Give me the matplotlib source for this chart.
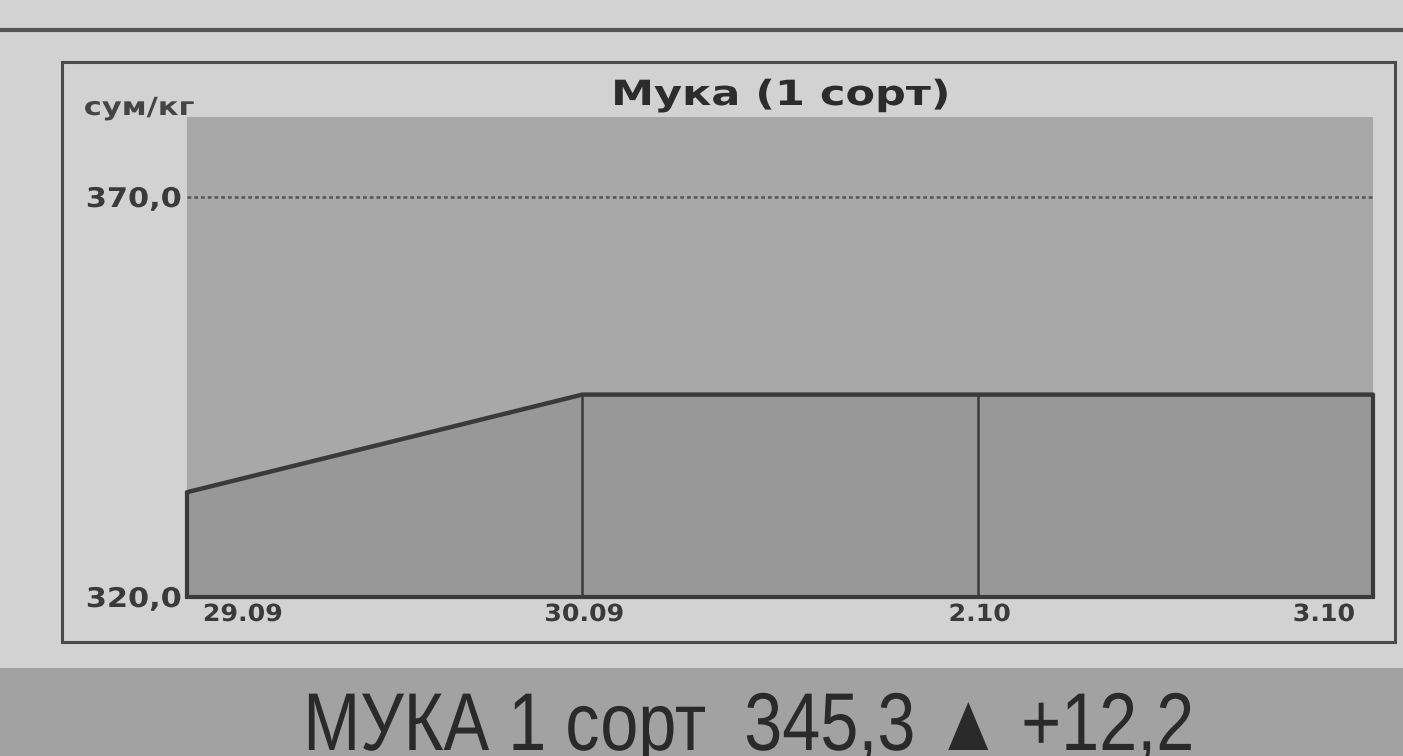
import matplotlib
matplotlib.use("Agg")
import matplotlib.pyplot as plt
from matplotlib.patches import Rectangle
from matplotlib.lines import Line2D
from matplotlib.patheffects import AbstractPathEffect
import matplotlib.transforms as mtransforms

# ---- data ----
dates = ["29.09", "30.09", "2.10", "3.10"]
prices = [333.1, 345.3, 345.3, 345.3]
ytick_values = [320, 370]
ytick_labels = ["320,0", "370,0"]
title = "Мука (1 сорт)"
unit = "сум/кг"
banner_name = "МУКА 1 сорт"
banner_value = "345,3"
banner_change = "+12,2"


class Stretch(AbstractPathEffect):
    """Scale glyphs horizontally about an anchor of the text (keeps real text)."""

    def __init__(self, sx, anchor="center"):
        super().__init__()
        self.sx = sx
        self.anchor = anchor

    def draw_path(self, renderer, gc, tpath, affine, rgbFace=None):
        ext = affine.transform_path(tpath).get_extents()
        if self.anchor == "left":
            a = ext.x0
        elif self.anchor == "right":
            a = ext.x1
        else:
            a = 0.5 * (ext.x0 + ext.x1)
        t = affine + mtransforms.Affine2D().translate(-a, 0).scale(self.sx, 1).translate(a, 0)
        renderer.draw_path(gc, tpath, t, rgbFace)


PAGE = "#d2d2d2"
PLOTBG = "#a8a8a8"
FILL = "#989898"
DARK = "#3a3a3a"
BANNER = "#a2a2a2"

W, H = 1403, 756
fig = plt.figure(figsize=(W / 100, H / 100), dpi=100, facecolor=PAGE)


def fx(px):
    return px / W


def fy(py):
    return 1 - py / H


# top rule
fig.add_artist(Line2D([0, 1], [fy(30), fy(30)], color="#555555", lw=3.0))
# outer frame
fig.add_artist(Rectangle((fx(62), fy(642)), fx(1395) - fx(62), fy(62) - fy(642),
                         fill=False, edgecolor="#4a4a4a", lw=2.2))
# banner
fig.add_artist(Rectangle((0, 0), 1, fy(668), facecolor=BANNER, edgecolor="none"))

ax = fig.add_axes([fx(187), fy(597), fx(1373) - fx(187), fy(117) - fy(597)])
ax.set_facecolor(PLOTBG)
x = list(range(len(dates)))
ax.fill_between(x, prices, ytick_values[0], color=FILL, lw=0)
ax.plot(x, prices, color=DARK, lw=3.2, solid_capstyle="round", clip_on=False)
# drop lines at each date
ax.vlines(x[1:-1], ytick_values[0], prices[1:-1], colors=DARK, lw=1.8)
ax.vlines([x[0], x[-1]], ytick_values[0], [prices[0], prices[-1]], colors=DARK, lw=3.0,
          clip_on=False)
ax.axhline(ytick_values[0], color=DARK, lw=3, clip_on=False)
ax.axhline(ytick_values[1], color="#555555", lw=1.8, ls=(0, (1.5, 1.2)))

ax.set_xlim(x[0], x[-1])
ax.set_ylim(320, 380)
for s in ax.spines.values():
    s.set_visible(False)

ax.set_yticks(ytick_values)
ax.set_yticklabels(ytick_labels, fontsize=19.5, fontweight="bold", color=DARK,
                   family="DejaVu Sans")
for lab in ax.get_yticklabels():
    lab.set_path_effects([Stretch(1.12, "right")])
ax.tick_params(axis="y", length=0, pad=4)
ax.set_xticks([])

# x labels
xt = ax.get_xaxis_transform()
n = len(dates)
for i, d in enumerate(dates):
    if i == 0:
        ha, dx = "left", 16
    elif i == n - 1:
        ha, dx = "right", -18
    else:
        ha, dx = "center", 2
    off = mtransforms.ScaledTranslation(dx / 100, -17 / 100, fig.dpi_scale_trans)
    ax.text(x[i], 0, d, transform=xt + off, ha=ha, va="center", fontsize=17,
            fontweight="bold", color=DARK, family="DejaVu Sans",
            path_effects=[Stretch(1.07, ha)])

# title & unit
fig.text(fx(781), fy(105), title, ha="center", va="baseline", fontsize=25,
         fontweight="bold", color="#2c2c2c", family="DejaVu Sans",
         path_effects=[Stretch(1.24, "center")])
fig.text(fx(84), fy(115), unit, ha="left", va="baseline", fontsize=18,
         fontweight="bold", color="#444444", family="DejaVu Sans",
         path_effects=[Stretch(1.22, "left")])

# banner text
fig.text(fx(749), fy(750), f"{banner_name}  {banner_value} \u25B2 {banner_change}",
         ha="center", va="baseline", fontsize=59, color="#2a2a2a",
         family=["Liberation Sans", "DejaVu Sans"],
         path_effects=[Stretch(0.835, "center")])

fig.savefig("out.png", dpi=100, facecolor=PAGE)
